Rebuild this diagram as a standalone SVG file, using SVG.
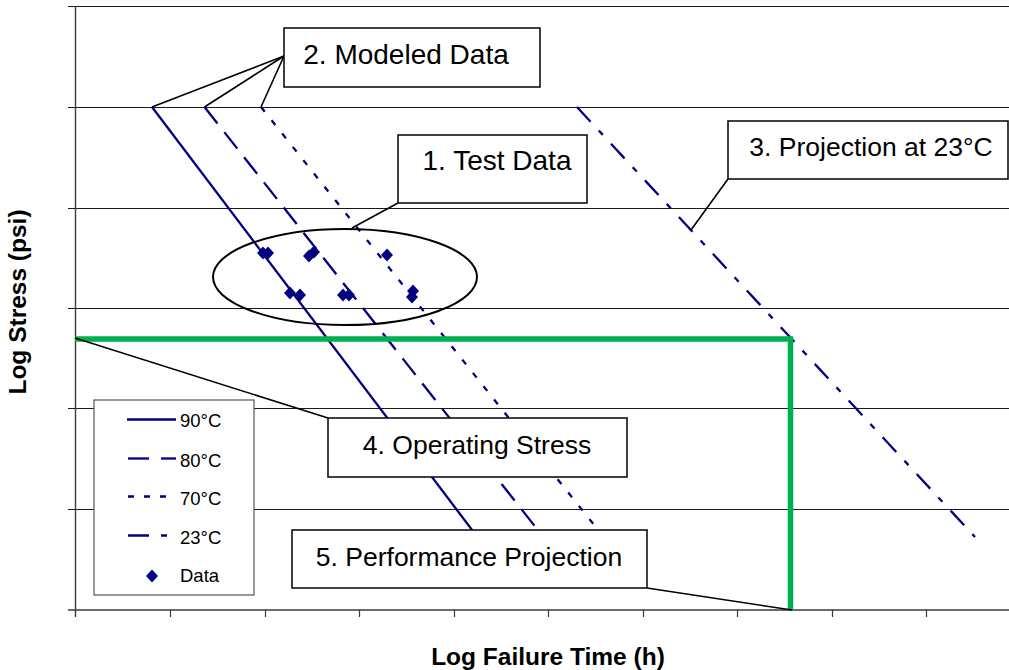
<svg xmlns="http://www.w3.org/2000/svg" xmlns:xlink="http://www.w3.org/1999/xlink" width="1009" height="670" viewBox="0 0 1009 670">
  <style>
    .grid { stroke: #1a1a1a; stroke-width: 1; fill: none; }
    .axis { stroke: #3a3a3a; stroke-width: 1.4; fill: none; }
    .tick { stroke: #3a3a3a; stroke-width: 1.2; fill: none; }
    .series { stroke: #000080; stroke-width: 2.3; fill: none; }
    .s90 { }
    .s80 { stroke-dasharray: 21 11; }
    .s70 { stroke-dasharray: 6 11; }
    .s23 { stroke-dasharray: 20 12 6 12; }
    .pt { fill: #000080; }
    .green { stroke: #00B050; stroke-width: 5.5; fill: none; }
    .leader { stroke: #000; stroke-width: 1.6; fill: none; }
    .box { fill: #fff; stroke: #111; stroke-width: 1.6; }
    .label { font-family: "Liberation Sans", Arial, sans-serif; font-size: 26.5px; fill: #000; text-anchor: middle; }
    .label.big { font-size: 28px; }
    .legtext { font-family: "Liberation Sans", Arial, sans-serif; font-size: 18.5px; fill: #000; }
    .title { font-family: "Liberation Sans", Arial, sans-serif; font-size: 24.5px; font-weight: bold; fill: #000; text-anchor: middle; }
  </style>
  <defs>
    <path id="dia" d="M0,-6.5 L6,0 L0,6.5 L-6,0 Z"/>
  </defs>
  <rect width="1009" height="670" fill="#fff"/>

  <!-- value gridlines and axes -->
  <g id="gridlines">
    <line class="grid" x1="68" y1="6.5" x2="1009" y2="6.5"/>
    <line class="grid" x1="68" y1="107.5" x2="1009" y2="107.5"/>
    <line class="grid" x1="68" y1="208.5" x2="1009" y2="208.5"/>
    <line class="grid" x1="68" y1="308.5" x2="1009" y2="308.5"/>
    <line class="grid" x1="68" y1="408.5" x2="1009" y2="408.5"/>
    <line class="grid" x1="68" y1="509.5" x2="1009" y2="509.5"/>
  </g>
  <g id="axes">
    <line class="axis" x1="75.5" y1="6" x2="75.5" y2="617"/>
    <line class="axis" x1="68" y1="610" x2="1009" y2="610"/>
    <path class="tick" d="M170.5,610v7 M265.5,610v7 M359.5,610v7 M454.5,610v7 M548.5,610v7 M643.5,610v7 M737.5,610v7 M832.5,610v7 M926.5,610v7"/>
  </g>

  <!-- modeled regression lines -->
  <g id="series">
    <line class="series s90" x1="152" y1="107" x2="491" y2="555"/>
    <line class="series s80" x1="204.5" y1="107" x2="557.5" y2="555"/>
    <line class="series s70" x1="261" y1="107" x2="618" y2="555"/>
    <line class="series s23" x1="577" y1="107" x2="975" y2="537"/>
  </g>

  <!-- measured failure points -->
  <g id="data-points">
    <use xlink:href="#dia" class="pt" x="263" y="253"/>
    <use xlink:href="#dia" class="pt" x="268" y="253"/>
    <use xlink:href="#dia" class="pt" x="309" y="256"/>
    <use xlink:href="#dia" class="pt" x="314" y="252"/>
    <use xlink:href="#dia" class="pt" x="387" y="255"/>
    <use xlink:href="#dia" class="pt" x="290" y="293"/>
    <use xlink:href="#dia" class="pt" x="300" y="295"/>
    <use xlink:href="#dia" class="pt" x="343" y="295"/>
    <use xlink:href="#dia" class="pt" x="349" y="295"/>
    <use xlink:href="#dia" class="pt" x="413" y="291"/>
    <use xlink:href="#dia" class="pt" x="412" y="297"/>
  </g>

  <!-- operating stress and projected failure time -->
  <g id="projection">
    <polyline class="green" points="75,339 790.5,339 790.5,610"/>
  </g>

  <g id="test-data-ring">
    <ellipse cx="345" cy="277" rx="132" ry="48" fill="none" stroke="#000" stroke-width="2"/>
  </g>

  <!-- callout leaders -->
  <g id="connectors">
    <line class="leader" x1="398" y1="203" x2="352" y2="228"/>
    <line class="leader" x1="284" y1="56" x2="152" y2="107"/>
    <line class="leader" x1="284" y1="56" x2="204.5" y2="107"/>
    <line class="leader" x1="284" y1="56" x2="261" y2="107"/>
    <line class="leader" x1="728" y1="179" x2="691" y2="230"/>
    <line class="leader" x1="328" y1="418" x2="75" y2="338"/>
    <line class="leader" x1="647" y1="588" x2="792" y2="610"/>
  </g>

  <!-- callout boxes -->
  <g id="label-test-data">
    <rect class="box" x="398" y="135" width="189" height="68"/>
    <text class="label big" x="497" y="170">1. Test Data</text>
  </g>
  <g id="label-modeled-data">
    <rect class="box" x="284" y="28" width="256" height="59"/>
    <text class="label big" x="406" y="64">2. Modeled Data</text>
  </g>
  <g id="label-projection-23">
    <rect class="box" x="728" y="121" width="280" height="58"/>
    <text class="label" x="871" y="156">3. Projection at 23°C</text>
  </g>
  <g id="label-operating-stress">
    <rect class="box" x="328" y="418" width="299" height="59"/>
    <text class="label" x="477" y="454">4. Operating Stress</text>
  </g>
  <g id="label-performance">
    <rect class="box" x="292" y="530" width="355" height="58"/>
    <text class="label" x="469" y="566">5. Performance Projection</text>
  </g>

  <!-- legend -->
  <g id="legend">
    <rect x="94" y="400" width="160" height="195" fill="#fff" stroke="#555" stroke-width="1.2"/>
    <line class="series s90" x1="127" y1="419.5" x2="176" y2="419.5"/>
    <text class="legtext" x="180" y="427">90°C</text>
    <line class="series" x1="128" y1="458.5" x2="149" y2="458.5"/>
    <line class="series" x1="161" y1="458.5" x2="176" y2="458.5"/>
    <text class="legtext" x="180" y="467">80°C</text>
    <path class="series" d="M128,496.5h6 M144,496.5h6 M160,496.5h6"/>
    <text class="legtext" x="180" y="505">70°C</text>
    <path class="series" d="M128,535.5h21 M161,535.5h6"/>
    <text class="legtext" x="180" y="544">23°C</text>
    <use xlink:href="#dia" class="pt" x="152" y="576"/>
    <text class="legtext" x="180" y="582">Data</text>
  </g>

  <!-- axis titles -->
  <g id="axis-titles">
    <text class="title" x="548" y="665">Log Failure Time (h)</text>
    <text class="title" transform="translate(26,302) rotate(-90)">Log Stress (psi)</text>
  </g>
</svg>
